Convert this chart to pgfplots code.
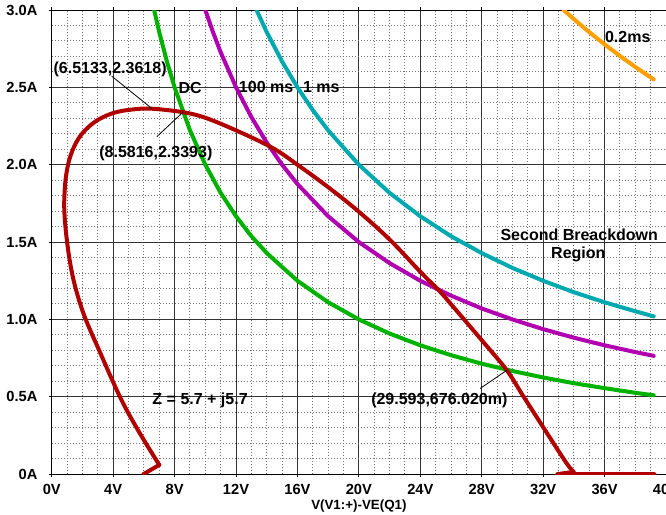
\documentclass[border=0pt]{standalone}
\usepackage{pgfplots}
\pgfplotsset{compat=1.18}
\usepackage{fontspec}
\setmainfont{Liberation Sans}

\definecolor{dcgreen}{RGB}{0,178,0}
\definecolor{hmpurple}{RGB}{176,0,176}
\definecolor{mscyan}{RGB}{0,168,176}
\definecolor{msorange}{RGB}{255,160,0}
\definecolor{lldred}{RGB}{176,0,0}

\begin{document}
\begin{tikzpicture}
\begin{axis}[
  scale only axis, width=460.5pt, height=348pt,
  xmin=0, xmax=40, ymin=0, ymax=3,
  xtick={0,4,8,12,16,20,24,28,32,36,40},
  ytick={0,0.5,1,1.5,2,2.5,3},
  xticklabels={0V,4V,8V,12V,16V,20V,24V,28V,32V,36V,40V},
  yticklabels={0A,0.5A,1.0A,1.5A,2.0A,2.5A,3.0A},
  minor x tick num=3, minor y tick num=4,
  grid=both,
  major grid style={black!80, line width=0.75pt},
  minor grid style={black!55, line width=0.75pt, dash pattern=on 0.75pt off 1.5pt},
  axis line style={black, line width=0.75pt},
  tick align=outside, major tick length=2.25pt, minor tick length=0pt,
  tick style={black, line width=0.75pt},
  tick label style={font=\bfseries\fontsize{11}{13}\selectfont},
  yticklabel style={xshift=-5pt},
  xticklabel style={yshift=-1.5pt},
  xlabel={V(V1:+)-VE(Q1)},
  xlabel style={font=\bfseries\fontsize{10}{12}\selectfont, at={(axis description cs:0.5,0)}, anchor=center, yshift=-24pt},
  clip=true,
  every axis plot/.append style={line width=3pt, line join=round, line cap=round},
]
% DC: 20 W
\addplot[dcgreen] coordinates {
(6.667,3.000)(7,2.857)(7.5,2.667)(8,2.5)(9,2.222)(10,2.0)(11,1.818)(12,1.667)(13,1.538)(14,1.429)(16,1.25)(18,1.111)(20,1.0)(22,0.909)(24,0.833)(26,0.769)(28,0.714)(30,0.667)(32,0.625)(34,0.588)(36,0.556)(38,0.526)(39.2,0.510)};
% 100 ms: 30 W
\addplot[hmpurple] coordinates {
(10,3.0)(10.5,2.857)(11,2.727)(12,2.5)(13,2.308)(14,2.143)(15,2.0)(16,1.875)(18,1.667)(20,1.5)(22,1.364)(24,1.25)(26,1.154)(28,1.071)(30,1.0)(32,0.9375)(34,0.882)(36,0.833)(38,0.789)(39.2,0.765)};
% 1 ms: 40 W
\addplot[mscyan] coordinates {
(13.333,3.0)(14,2.857)(15,2.667)(16,2.5)(17,2.353)(18,2.222)(20,2.0)(22,1.818)(24,1.667)(26,1.538)(28,1.429)(30,1.333)(32,1.25)(34,1.176)(36,1.111)(38,1.053)(39.2,1.020)};
% 0.2 ms: 100 W
\addplot[msorange] coordinates {
(33.333,3.0)(34,2.941)(35,2.857)(36,2.778)(37,2.703)(38,2.632)(39.2,2.551)};
% load line Z = 5.7 + j5.7
\addplot[lldred] coordinates {(5.97,0.0)(7.0,0.06)};
\addplot[lldred, smooth, tension=0.6] coordinates {
(7.0,0.06)(5.62,0.284)(4.45,0.498)(3.08,0.802)(2.23,0.996)(1.7,1.15)(1.3,1.31)(1.0,1.5)(0.82,1.7)(0.86,1.86)(1.02,1.98)(1.3,2.08)(1.75,2.17)(2.35,2.24)(3.1,2.295)(4.1,2.337)(5.25,2.357)(6.51,2.362)(8.58,2.339)(10.1,2.30)(12.27,2.21)(14.44,2.105)(16.0,2.0)(18.0,1.855)(20.0,1.696)(22.04,1.513)(24.0,1.308)(25.3,1.178)(26.16,1.08)(28.0,0.866)(29.6,0.676)(30.7,0.505)(31.8,0.335)(32.9,0.165)(33.6,0.06)(33.98,0.015)};
\addplot[lldred] coordinates {(33.98,0.015)(32.9,0.0)(39.25,0.0)};

% annotations
\begin{scope}[every node/.style={font=\bfseries\fontsize{12}{14}\selectfont, inner sep=0pt}]
\node at (axis cs:3.80,2.618) {(6.5133,2.3618)};
\node at (axis cs:6.78,2.075) {(8.5816,2.3393)};
\node at (axis cs:9.01,2.498) {DC};
\node at (axis cs:13.96,2.504) {100 ms};
\node at (axis cs:17.55,2.504) {1 ms};
\node at (axis cs:37.51,2.823) {0.2ms};
\node at (axis cs:34.35,1.545) {Second Breackdown};
\node at (axis cs:34.29,1.420) {Region};
\node at (axis cs:9.66,0.478) {Z = 5.7 + j5.7};
\node at (axis cs:25.24,0.478) {(29.593,676.020m)};
\end{scope}
\draw[black, line width=0.6pt] (axis cs:3.90,2.573) -- (axis cs:6.51,2.364);
\draw[black, line width=0.6pt] (axis cs:6.84,2.181) -- (axis cs:8.57,2.342);
\draw[black, line width=0.6pt] (axis cs:27.9,0.554) -- (axis cs:29.64,0.672);
\end{axis}
\pgfresetboundingbox
\path[use as bounding box] ([xshift=-38.8pt,yshift=-30pt]current axis.south west) rectangle ([yshift=7.5pt]current axis.north east);
\end{tikzpicture}
\end{document}
